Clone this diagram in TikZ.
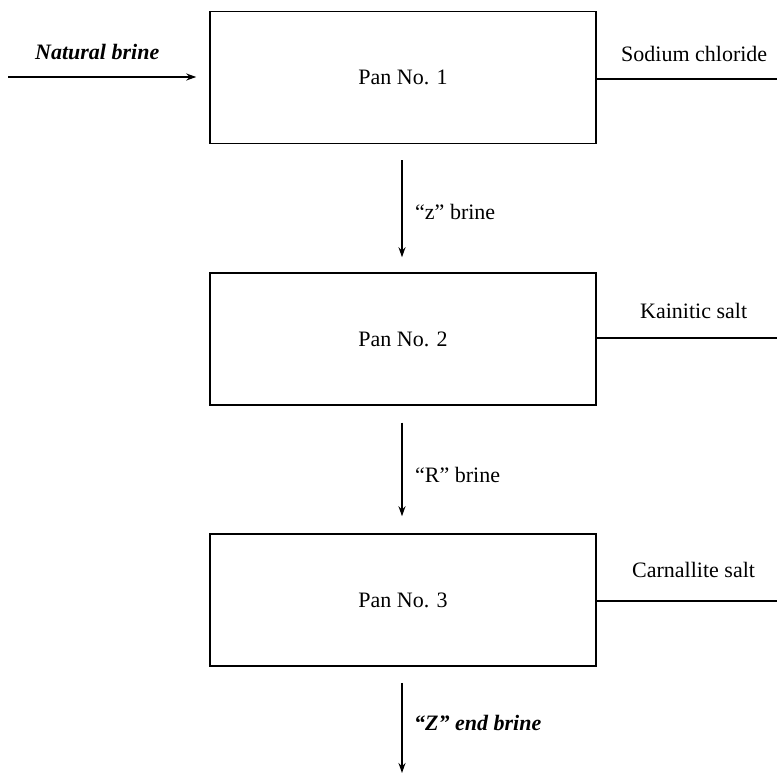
\documentclass[tikz,border=0pt]{standalone}
\usepackage{fontspec}
\setmainfont{Liberation Serif}
\usetikzlibrary{arrows.meta}

\tikzset{
  pan/.style={draw, line width=1.5pt, minimum width=386pt, minimum height=132pt, inner sep=0pt},
  flow/.style={line width=1.5pt, -{Stealth[length=10pt,width=7pt]}},
  lbl/.style={inner sep=0pt}
}

\begin{document}
\begin{tikzpicture}[x=1pt,y=-1pt,font=\fontsize{22}{26}\selectfont]
\useasboundingbox (0,0) rectangle (777,775);
\clip (0,0) rectangle (777,775);
% pans
\node[pan] (pan1) at (403,77.5) {Pan No. 1};
\node[pan] (pan2) at (403,339) {Pan No. 2};
\node[pan] (pan3) at (403,600) {Pan No. 3};
% feed and outlets
\coordinate (feed) at (8,77);
\coordinate (out1) at (789,79);
\coordinate (out2) at (789,338);
\coordinate (out3) at (789,601);
\coordinate (drain) at (402,773);
\draw[flow] (feed) -- ([xshift=-13pt]pan1.west |- feed);
\draw[flow] (pan1.east |- out1) -- (out1);
\draw[flow] (pan2.east |- out2) -- (out2);
\draw[flow] (pan3.east |- out3) -- (out3);
% brines between pans
\draw[flow] ([xshift=-1pt,yshift=-16pt]pan1.south) -- ([xshift=-1pt,yshift=15pt]pan2.north);
\draw[flow] ([xshift=-1pt,yshift=-17pt]pan2.south) -- ([xshift=-1pt,yshift=17pt]pan3.north);
\draw[flow] ([xshift=-1pt,yshift=-16pt]pan3.south) -- (drain);
% labels
\node[lbl,anchor=west] (natural) at (35,52) {\textbf{\textit{Natural brine}}};
\node[lbl,anchor=west] (sodium) at (621,54) {Sodium chloride};
\node[lbl,anchor=west] (kainit) at (640,311) {Kainitic salt};
\node[lbl,anchor=west] (carnal) at (632,570) {Carnallite salt};
\node[lbl,anchor=west] (zbrine) at (415,212) {“z” brine};
\node[lbl,anchor=west] (rbrine) at (415,475) {“R” brine};
\node[lbl,anchor=west] (endbrine) at (414,723) {\textbf{\textit{“Z” end brine}}};
\end{tikzpicture}
\end{document}
